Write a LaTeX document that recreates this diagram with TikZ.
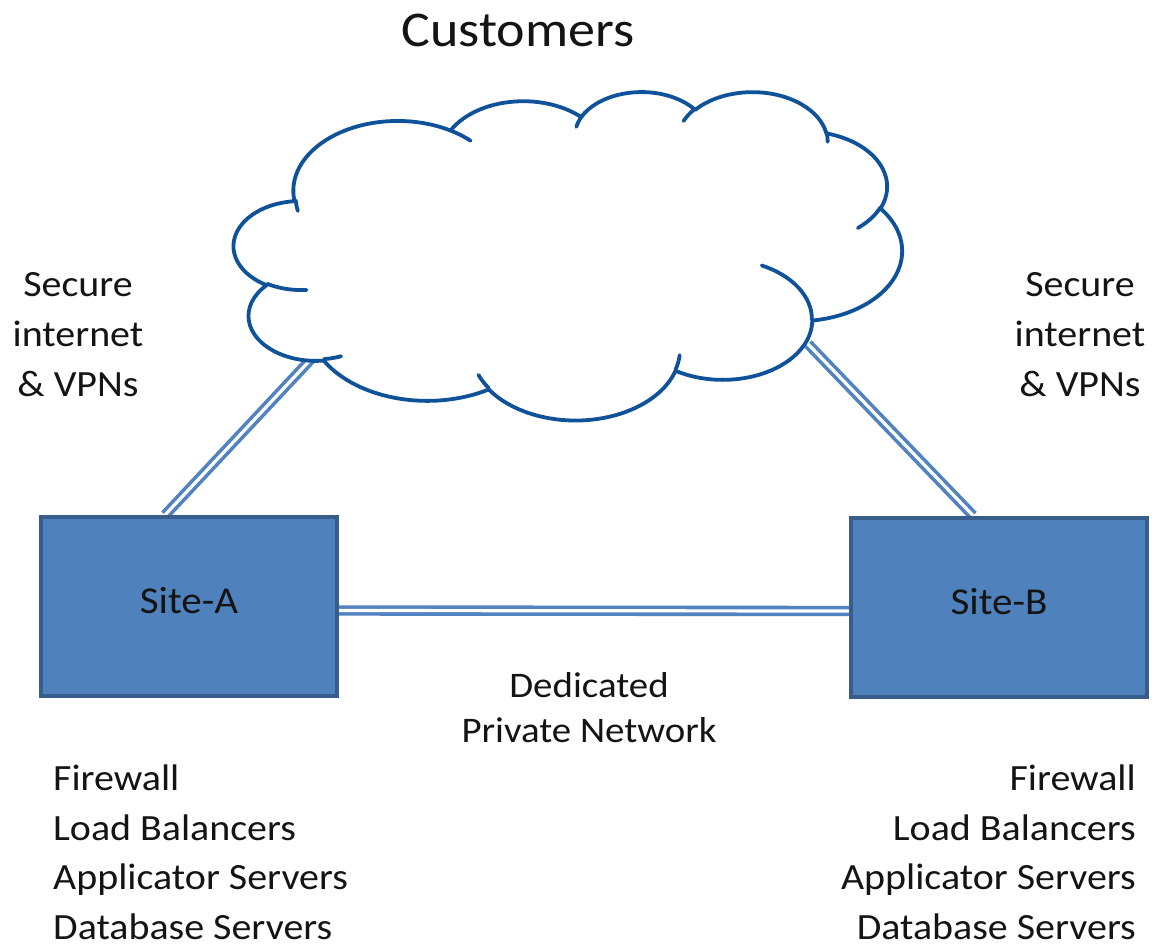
\documentclass[tikz,border=0pt]{standalone}
\usepackage{fontspec}
\setmainfont{Carlito}[FakeStretch=1.08]
\usetikzlibrary{backgrounds}
\makeatletter
% parametric angle of the point seen at angle #1 on an ellipse with radii #2, #3
\pgfmathdeclarefunction{ellang}{3}{%
  \begingroup
    \pgfmathsetmacro\ell@a{atan2((#2)*sin(#1),(#3)*cos(#1))-(#1)}%
    \pgfmathsetmacro\ell@b{round(\ell@a/360)}%
    \pgfmathparse{(#1)+\ell@a-360*\ell@b}%
    \pgfmath@smuggleone\pgfmathresult
  \endgroup}
\makeatother
\definecolor{boxfill}{RGB}{79,129,189}
\definecolor{boxline}{RGB}{56,93,138}
\definecolor{cloudblue}{RGB}{16,82,154}
\definecolor{linkblue}{RGB}{82,131,193}
\definecolor{ink}{RGB}{20,20,20}
\tikzset{
  carc/.style n args={4}{insert path={arc[start angle={ellang(#3,#1,#2)},
      end angle={ellang((#3)+(#4),#1,#2)}, x radius=#1, y radius=#2]}},
  cloudline/.style={draw=cloudblue, line width=3.8pt, line cap=round, line join=round},
  sitebox/.style={draw=boxline, fill=boxfill, line width=4pt,
      minimum width=296pt, minimum height=179pt, text=ink, text depth=12pt,
      font=\fontsize{38}{46}\selectfont},
  link/.style={draw=linkblue, line width=3.6pt, double=white, double distance=3.2pt},
  lbl/.style={text=ink, inner sep=0pt},
}
\begin{document}
\begin{tikzpicture}[x=1pt, y=-1pt]
\useasboundingbox (0,0) rectangle (1159,948);

% title
\node[lbl, anchor=base, font=\fontsize{50}{60}\selectfont] (title) at (518,46) {Customers};

% the two sites
\node[sitebox] (siteA) at (189,606.5) {Site-A};
\node[sitebox] (siteB) at (999,607) {Site-B};

% where the links meet the cloud
\coordinate (cloudA) at (314,356);
\coordinate (cloudB) at (808,344);

\begin{pgfonlayer}{background}
  \fill[white] (0,0) rectangle (1159,948);
  \draw[link] (cloudA) -- ([xshift=-24pt]siteA.north);
  \draw[link] (cloudB) -- ([xshift=-26pt]siteB.north);
  \draw[link] ([yshift=-4pt]siteA.east) -- ([yshift=-4pt]siteB.west);
\end{pgfonlayer}

% the cloud: outline made of elliptic lobes, plus the inner strokes
\begin{scope}[shift={(234,91)}, xscale=15.46, yscale=7.6]
\draw[cloudline, fill=white] (3.9,14.37)
  [carc={6.753}{9.190}{-190.48748}{123.78053}]
  [carc={5.333}{7.267}{-144.10238}{89.94523}]
  [carc={4.365}{5.945}{-145.80792}{99.72302}]
  [carc={4.857}{6.595}{-130.98607}{117.24173}]
  [carc={5.333}{7.273}{-78.70888}{109.02692}]
  [carc={6.775}{9.220}{-46.26725}{130.269}]
  [carc={5.785}{7.867}{0.62502}{114.03333}]
  [carc={6.752}{9.215}{22.4516}{115.17255}]
  [carc={7.720}{10.543}{66.24263}{75.71102}]
  [carc={4.360}{5.918}{-274.94208}{146.73557}]
  [carc={4.345}{5.945}{-246.8285}{152.51885}]
  -- cycle;
\draw[cloudline]
  (4.693,26.177) [carc={4.345}{5.945}{86.742}{26.4295}]
  (6.928,34.899) [carc={4.360}{5.918}{73.61047}{11.44747}]
  (16.478,39.090) [carc={6.752}{9.215}{137.62415}{14.0811}]
  (28.827,34.751) [carc={6.752}{9.215}{6.45327}{15.99835}]
  (34.129,22.954) [carc={5.785}{7.867}{-70.29235}{70.91737}]
  (41.798,15.354) [carc={5.333}{7.273}{30.31803}{27.7515}]
  (38.324,5.426) [carc={4.857}{6.595}{-13.74433}{14.8589}]
  (29.078,3.952) [carc={4.857}{6.595}{-149.18145}{18.19537}]
  (22.141,4.720) [carc={4.365}{5.945}{-163.49427}{17.68635}]
  (14.000,5.192) [carc={6.753}{9.190}{-66.70695}{12.31935}]
  (4.127,15.789) [carc={6.753}{9.190}{163.9179}{11.86238}];
\end{scope}

% labels
\node[lbl, align=center, font=\fontsize{37}{50}\selectfont] (vpnA) at (78,335)
  {Secure\\internet\\\& VPNs};
\node[lbl, align=center, font=\fontsize{37}{50}\selectfont] (vpnB) at (1080,335)
  {Secure\\internet\\\& VPNs};
\node[lbl, align=center, font=\fontsize{36}{45}\selectfont] (dpn) at (589,708)
  {Dedicated\\Private Network};
\node[lbl, align=left, anchor=north west, font=\fontsize{37}{49.5}\selectfont] (listA) at (53,765)
  {Firewall\\Load Balancers\\Applicator Servers\\Database Servers};
\node[lbl, align=right, anchor=north east, font=\fontsize{37}{49.5}\selectfont] (listB) at (1136,765)
  {Firewall\\Load Balancers\\Applicator Servers\\Database Servers};
\end{tikzpicture}
\end{document}
